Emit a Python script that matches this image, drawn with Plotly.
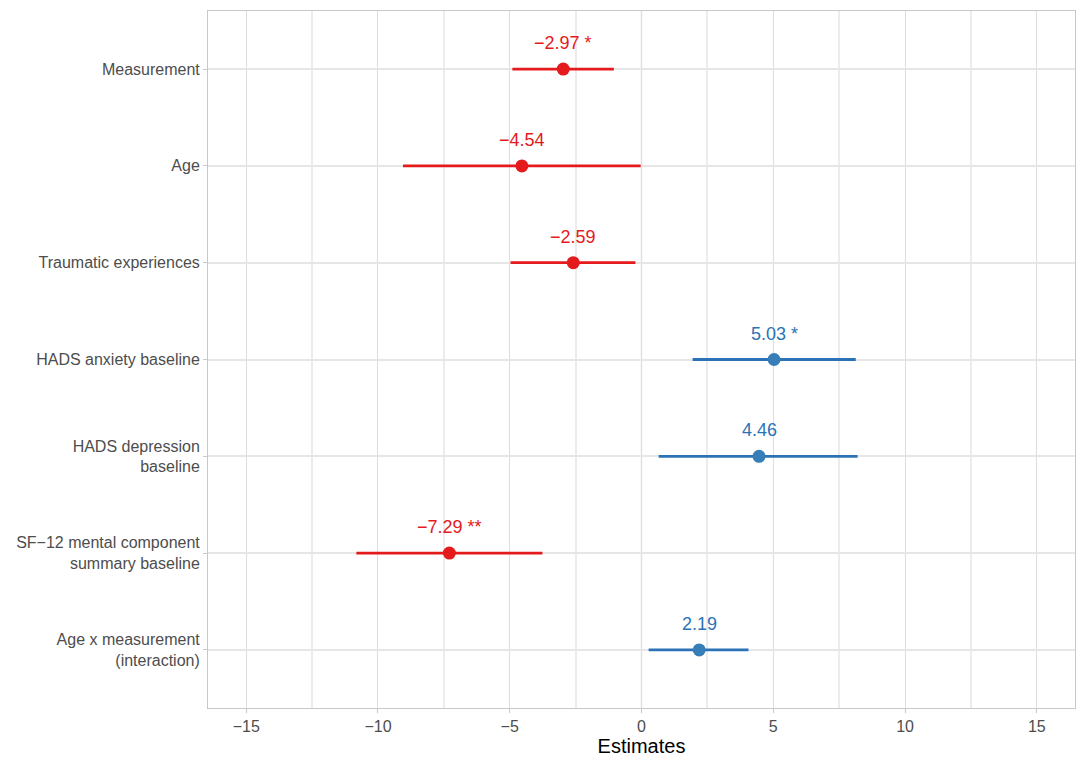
import plotly.graph_objects as go

# model terms, top to bottom
terms = [
    "Measurement",
    "Age",
    "Traumatic experiences",
    "HADS anxiety baseline",
    "HADS depression<br>baseline",
    "SF\u221212 mental component<br>summary baseline",
    "Age x measurement<br>(interaction)",
]
estimates = [-2.97, -4.54, -2.59, 5.03, 4.46, -7.29, 2.19]
ci_low = [-4.90, -9.05, -4.97, 1.94, 0.65, -10.82, 0.27]
ci_high = [-1.05, -0.03, -0.23, 8.13, 8.20, -3.76, 4.06]
stars = ["*", "", "", "*", "", "**", ""]

x_ticks = [-15, -10, -5, 0, 5, 10, 15]

RED = "#e41a1c"
BLUE = "#377eb8"
BLUE_LINE = "#2b73b6"

rows = list(range(1, len(terms) + 1))

fig = go.Figure()

for i, (est, lo, hi) in enumerate(zip(estimates, ci_low, ci_high)):
    pos = est > 0
    fig.add_trace(go.Scatter(
        x=[est],
        y=[rows[i]],
        mode="markers",
        marker=dict(size=13, color=BLUE if pos else RED),
        error_x=dict(
            type="data",
            symmetric=False,
            array=[hi - est],
            arrayminus=[est - lo],
            color=BLUE_LINE if pos else RED,
            thickness=2.8,
            width=0,
        ),
        showlegend=False,
        hoverinfo="skip",
    ))
    label = f"{est:.2f}".replace("-", "\u2212")
    if stars[i]:
        label += " " + stars[i]
    fig.add_annotation(
        x=est, y=rows[i], text=label, showarrow=False,
        yshift=26, font=dict(size=18, color=BLUE_LINE if pos else RED),
    )

# faint reference line at zero
fig.add_shape(
    type="line", x0=0, x1=0, y0=0, y1=1, yref="paper",
    line=dict(color="#f4f4f4", width=2), layer="below",
)

fig.update_xaxes(
    range=[-16.45, 16.45],
    tickvals=x_ticks,
    ticktext=[str(t).replace("-", "\u2212") for t in x_ticks],
    showgrid=True, gridcolor="#dedede", gridwidth=1,
    minor=dict(dtick=5, tick0=2.5, showgrid=True, gridcolor="#ececec", gridwidth=1.5),
    zeroline=False,
    showline=True, linecolor="#c8c8c8", linewidth=1, mirror=True,
    ticks="outside", ticklen=4, tickcolor="#c8c8c8",
    tickfont=dict(size=16, color="#4d4d4d"),
    title=dict(text="Estimates", font=dict(size=20, color="black"), standoff=4),
)
fig.update_yaxes(
    range=[7.6, 0.4],
    tickvals=rows,
    ticktext=terms,
    showgrid=True, gridcolor="#e6e6e6", gridwidth=1.5,
    zeroline=False,
    showline=True, linecolor="#c8c8c8", linewidth=1, mirror=True,
    ticks="outside", ticklen=4, tickcolor="#c8c8c8",
    tickfont=dict(size=16, color="#4d4d4d"),
)

# the page body adds an 8px offset, so the figure is sized to fit inside it
fig.update_layout(
    width=1078,
    height=758,
    margin=dict(l=200, r=11, t=3, b=58),
    plot_bgcolor="white",
    paper_bgcolor="white",
    font=dict(family="Liberation Sans, Arial, sans-serif"),
)

fig.write_html("out.html")
